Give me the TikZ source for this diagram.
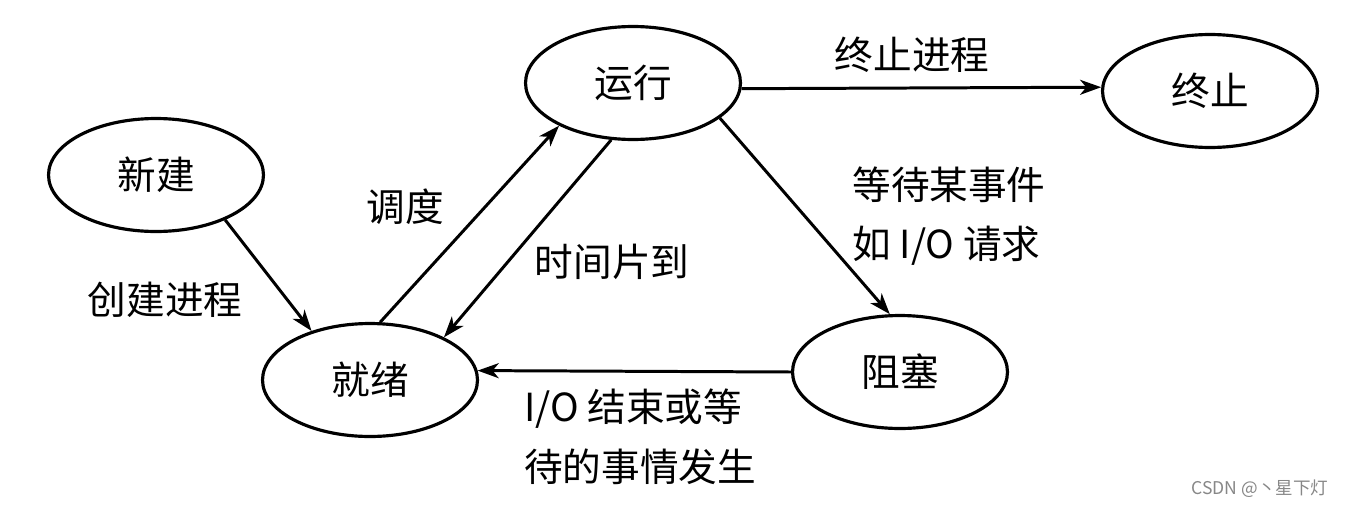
\documentclass[tikz,border=0pt]{standalone}
\usepackage{fontspec}
\setmainfont{Noto Sans CJK SC}
\usepackage{xcolor}
\usepackage{tikz}
\usetikzlibrary{arrows.meta,shapes.geometric}

\definecolor{markgray}{RGB}{135,135,135}

\begin{document}
\begin{tikzpicture}[x=0.02cm, y=-0.02cm,
    state/.style={ellipse, draw, line width=1.8pt, minimum width=4.3cm, minimum height=2.26cm, font=\fontsize{22}{26}\selectfont},
    trans/.style={line width=1.7pt, -{Stealth[length=12pt,width=8.5pt,inset=3.5pt]}},
    lbl/.style={font=\fontsize{22}{34}\selectfont, align=left}]

    \useasboundingbox (0,0) rectangle (1352,507);

    \node[state] (new) at (156,175) {新建};
    \node[state] (run) at (633,83) {运行};
    \node[state] (term) at (1210,91) {终止};
    \node[state] (ready) at (370,380) {就绪};
    \node[state] (block) at (900,372) {阻塞};

    \draw[trans] (new.-33) -- (ready.140);
    \draw[trans] (ready.80) -- (run.210);
    \draw[trans] (run.249) -- (ready.30);
    \draw[trans] (run.-3) -- (term.178);
    \draw[trans] (run.-22) -- (block.100);
    \draw[trans] (block.west) -- (ready.5);

    \node[lbl] (lcreate) at (165,300) {创建进程};
    \node[lbl] (lsched) at (405,207) {调度};
    \node[lbl] (lslice) at (612,262) {时间片到};
    \node[lbl] (lexit) at (912,55) {终止进程};
    \node[lbl] (lwait) at (949,216) {等待某事件\\如 I/O 请求};
    \node[lbl] (lwake) at (640,437) {I/O 结束或等\\待的事情发生};

    \node[font=\fontsize{10}{12}\selectfont, text=markgray] (mark) at (1260,489) {CSDN @丶星下灯};
\end{tikzpicture}
\end{document}
